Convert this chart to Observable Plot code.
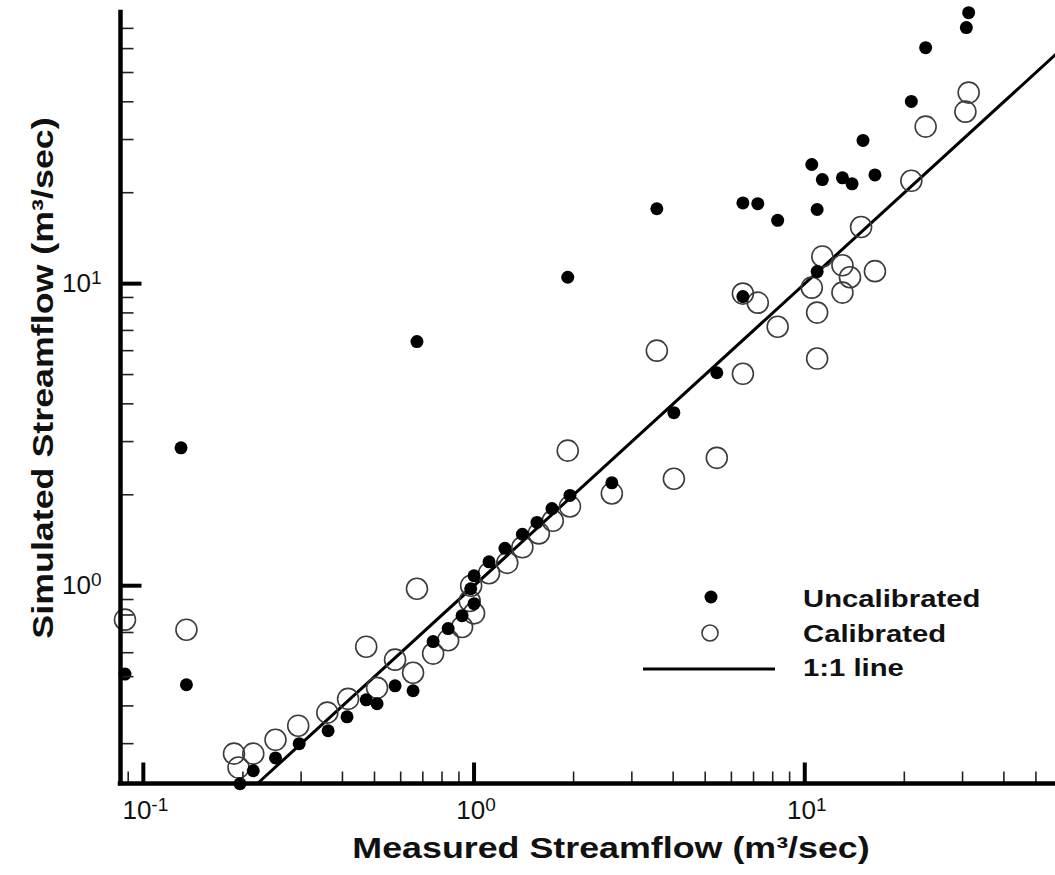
<!DOCTYPE html>
<html>
<head>
<meta charset="utf-8">
<script src="https://cdn.jsdelivr.net/npm/d3@7"></script>
<script src="https://cdn.jsdelivr.net/npm/@observablehq/plot@0.6"></script>
<style>
  body { margin: 0; background: #fff; }
  svg { display: block; }
</style>
</head>
<body>
<div id="chart"></div>
<script>
// ---- Data ----
const uncalMeasured  = [0.088, 0.135, 0.13, 0.196, 0.215, 0.251, 0.296, 0.362, 0.413, 0.472, 0.509, 0.577, 0.654, 0.672, 0.752, 0.835, 0.92, 0.977, 1.0, 1.0, 1.11, 1.24, 1.40, 1.55, 1.72, 1.95, 1.92, 2.61, 3.57, 4.02, 5.42, 6.50, 6.50, 7.21, 8.28, 10.5, 10.9, 10.9, 11.3, 13.0, 13.9, 15.0, 16.3, 21.0, 23.2, 30.8, 31.3];
const uncalSimulated = [0.51, 0.47, 2.86, 0.221, 0.244, 0.269, 0.300, 0.331, 0.368, 0.419, 0.407, 0.466, 0.449, 6.43, 0.653, 0.721, 0.796, 0.977, 1.079, 0.872, 1.20, 1.33, 1.48, 1.62, 1.80, 1.99, 10.5, 2.19, 17.7, 3.74, 5.07, 18.5, 9.06, 18.4, 16.2, 24.8, 17.6, 10.96, 22.1, 22.4, 21.4, 29.8, 22.9, 40.1, 60.4, 70.4, 78.9];

const calMeasured  = [0.088, 0.135, 0.188, 0.194, 0.215, 0.251, 0.294, 0.36, 0.416, 0.472, 0.509, 0.577, 0.654, 0.672, 0.752, 0.835, 0.92, 1.0, 0.97, 0.98, 1.11, 1.26, 1.40, 1.57, 1.73, 1.95, 1.92, 2.61, 3.57, 4.02, 5.42, 6.5, 6.5, 7.21, 8.28, 10.5, 10.9, 10.9, 11.3, 13.0, 13.7, 13.0, 14.8, 16.3, 21.0, 23.2, 30.6, 31.3];
const calSimulated = [0.772, 0.715, 0.278, 0.250, 0.278, 0.309, 0.344, 0.380, 0.422, 0.628, 0.459, 0.569, 0.515, 0.977, 0.596, 0.66, 0.73, 0.81, 0.89, 1.0, 1.10, 1.19, 1.34, 1.49, 1.64, 1.83, 2.80, 2.02, 6.0, 2.26, 2.65, 9.27, 5.03, 8.65, 7.2, 9.7, 8.02, 5.65, 12.3, 11.5, 10.5, 9.34, 15.4, 11.0, 21.9, 33.1, 37.1, 42.9];

const xDomain = [0.0853, 57.3];
const yDomain = [0.2214, 79];

const xMajorTicks = [0.1, 1, 10];
const xTickExponents = ["-1", "0", "1"];
const xMinorTicks = [0.09, 0.2, 0.3, 0.4, 0.5, 0.6, 0.7, 0.8, 0.9, 2, 3, 4, 5, 6, 7, 8, 9, 20, 30, 40, 50];
const yMajorTicks = [1, 10];
const yTickExponents = ["0", "1"];
const yMinorTicks = [0.3, 0.4, 0.5, 0.6, 0.7, 0.8, 0.9, 2, 3, 4, 5, 6, 7, 8, 9, 20, 30, 40, 50, 60, 70];

const legendLabels = ["Uncalibrated", "Calibrated", "1:1 line"];
const xTitle = "Measured Streamflow (m³/sec)";
const yTitle = "Simulated Streamflow (m³/sec)";

// ---- Build tables ----
const uncal = uncalMeasured.map((x, i) => ({x, y: uncalSimulated[i]}));
const cal = calMeasured.map((x, i) => ({x, y: calSimulated[i]}));
const lineEnds = [yDomain[0], xDomain[1]].map(v => ({x: v, y: v}));
const xLabels = xMajorTicks.map((v, i) => ({v, t: "10^" + xTickExponents[i]}));
const yLabels = yMajorTicks.map((v, i) => ({v, t: "10^" + yTickExponents[i]}));

const tickUp = {draw(ctx, l) { ctx.moveTo(0, 0); ctx.lineTo(0, -l); }};

const FONT = "'Liberation Sans', Arial, Helvetica, sans-serif";

const svg = Plot.plot({
  width: 1055,
  height: 875,
  marginLeft: 120,
  marginRight: 0,
  marginTop: 12,
  marginBottom: 92,
  style: {fontFamily: FONT, background: "white", color: "black", overflow: "visible"},
  x: {type: "log", domain: xDomain, axis: null},
  y: {type: "log", domain: yDomain, axis: null},
  marks: [
    // 1:1 line
    Plot.line(lineEnds, {x: "x", y: "y", stroke: "black", strokeWidth: 3}),
    // calibrated (open)
    Plot.dot(cal, {x: "x", y: "y", r: 10.5, fill: "none", stroke: "#3c3c3c", strokeWidth: 1.6}),
    // uncalibrated (filled)
    Plot.dot(uncal, {x: "x", y: "y", r: 6.5, fill: "black", stroke: "none"}),
    // minor ticks
    Plot.vector(xMinorTicks, {x: d => d, frameAnchor: "bottom", length: 12, anchor: "start", shape: tickUp, stroke: "#222", strokeWidth: 1.6, strokeLinecap: "butt"}),
    Plot.vector(yMinorTicks, {y: d => d, frameAnchor: "left", length: 13, rotate: 90, anchor: "start", shape: tickUp, stroke: "#222", strokeWidth: 1.6, strokeLinecap: "butt"}),
    // major ticks
    Plot.vector(xMajorTicks, {x: d => d, frameAnchor: "bottom", length: 21, anchor: "start", shape: tickUp, stroke: "black", strokeWidth: 4, strokeLinecap: "butt"}),
    Plot.vector(yMajorTicks, {y: d => d, frameAnchor: "left", length: 21, rotate: 90, anchor: "start", shape: tickUp, stroke: "black", strokeWidth: 4, strokeLinecap: "butt"}),
    // axis lines
    Plot.ruleX([xDomain[0]], {stroke: "black", strokeWidth: 4.5, strokeLinecap: "square"}),
    Plot.ruleY([yDomain[0]], {stroke: "black", strokeWidth: 4.5, strokeLinecap: "square"}),
    // tick labels
    Plot.text(xLabels, {x: "v", frameAnchor: "bottom", text: "t", dy: 35, dx: 2, lineAnchor: "bottom", textAnchor: "middle", fontSize: 26, fill: "#111"}),
    Plot.text(yLabels, {y: "v", frameAnchor: "left", text: "t", dx: -19, lineAnchor: "middle", textAnchor: "end", fontSize: 26, fill: "#111"})
  ]
});

// superscripts for tick labels
d3.select(svg).selectAll("text").each(function () {
  const m = this.textContent.match(/^10\^(.+)$/);
  if (m) {
    this.textContent = "10";
    d3.select(this).append("tspan").attr("dy", "-0.42em").attr("font-size", "19px").text(m[1]);
  }
});

const root = d3.select(svg);
// axis titles
root.append("g")
  .attr("transform", "translate(611,858) scale(1.235,1)")
  .append("text")
  .attr("text-anchor", "middle")
  .attr("font-family", FONT).attr("font-weight", "bold").attr("font-size", 29).attr("fill", "#111")
  .text(xTitle);
root.append("g")
  .attr("transform", "translate(53,378) rotate(-90) scale(1.235,1)")
  .append("text")
  .attr("text-anchor", "middle")
  .attr("font-family", FONT).attr("font-weight", "bold").attr("font-size", 29).attr("fill", "#111")
  .text(yTitle);

// legend
const lg = root.append("g");
lg.append("circle").attr("cx", 711).attr("cy", 597).attr("r", 6.5).attr("fill", "black");
lg.append("circle").attr("cx", 710).attr("cy", 633).attr("r", 8).attr("fill", "none").attr("stroke", "#3c3c3c").attr("stroke-width", 1.6);
lg.append("line").attr("x1", 643).attr("x2", 775).attr("y1", 669).attr("y2", 669).attr("stroke", "black").attr("stroke-width", 3);
const baselines = [606.5, 641.5, 676];
legendLabels.forEach((s, i) => {
  lg.append("g").attr("transform", `translate(803,${baselines[i]}) scale(1.22,1)`)
    .append("text")
    .attr("text-anchor", "start")
    .attr("font-family", FONT).attr("font-weight", "bold").attr("font-size", 24).attr("fill", "#111")
    .text(s);
});

document.getElementById("chart").appendChild(svg);
</script>
</body>
</html>
